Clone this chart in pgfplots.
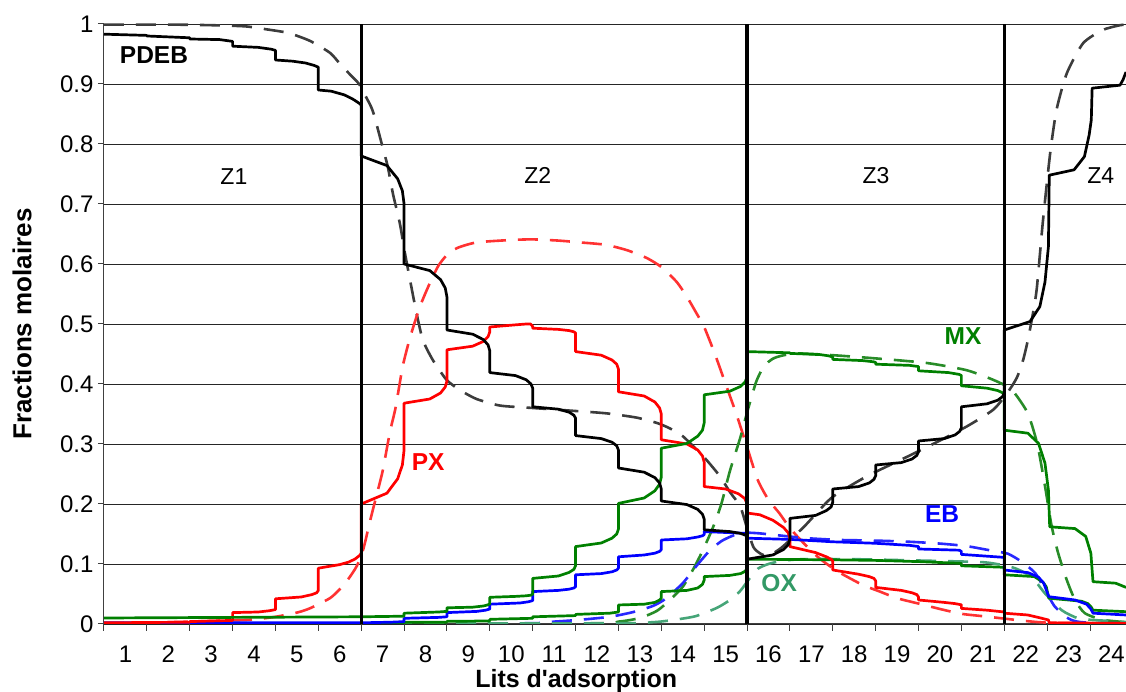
\documentclass[border=0pt]{standalone}
\usepackage{fontspec}
\setmainfont{Liberation Sans}
\usepackage{pgfplots}
\pgfplotsset{compat=1.18}
\definecolor{mxg}{RGB}{0,128,0}
\definecolor{oxg}{RGB}{51,153,102}
\definecolor{dgray}{RGB}{60,60,60}
\definecolor{dred}{RGB}{255,50,50}
\definecolor{dgreen}{RGB}{40,140,40}
\definecolor{dblue}{RGB}{40,40,255}
\definecolor{doxg}{RGB}{70,165,120}
\begin{document}
\begin{tikzpicture}
\begin{axis}[
  scale only axis, width=1022pt, height=600pt,
  xmin=0.5, xmax=24.34, ymin=0, ymax=1,
  axis x line*=bottom, axis y line*=left,
  axis line style={black!75, line width=1pt},
  tick align=outside,
  xtick={1,...,24},
  major x tick style={draw=none},
  minor xtick={0.5,1.5,...,23.5},
  minor x tick style={black!75, line width=1pt},
  ytick={0,0.1,0.2,0.3,0.4,0.5,0.6,0.7,0.8,0.9,1},
  y tick style={black!75, line width=1pt},
  major tick length=6pt, minor tick length=7pt,
  ymajorgrids, major grid style={black!85, line width=0.9pt},
  /pgf/number format/assume math mode=true,
  ticklabel style={font=\fontsize{24}{24}\selectfont},
  xticklabel style={yshift=-12pt},
  yticklabel style={xshift=-1pt},
  xlabel={Lits d\textquotesingle adsorption},
  ylabel={Fractions molaires},
  xlabel style={at={(axis description cs:0.462,0)}, anchor=center, yshift=-57pt, font=\bfseries\fontsize{25}{25}\selectfont},
  ylabel style={at={(axis description cs:-0.0802,0.5)}, anchor=center, font=\bfseries\fontsize{26}{26}\selectfont},
  no marks,
  every axis plot/.append style={line join=round},
]
\coordinate (BL) at (rel axis cs:0,0);
\coordinate (TR) at (rel axis cs:1,1);

% ---------- dashed (model) curves ----------
\addplot[dgray, line width=2.6pt, dash pattern=on 20pt off 12pt, smooth, tension=0.4] coordinates {
(0.5,0.999) (2.0,0.999) (3.0,0.998) (3.8,0.996) (4.3,0.991) (4.8,0.985) (5.3,0.972) (5.77,0.952) (6.0,0.934) (6.25,0.915) (6.45,0.9) (6.6,0.88) (6.77,0.855) (6.98,0.80) (7.12,0.762) (7.24,0.717) (7.4,0.668) (7.52,0.618) (7.64,0.573) (7.79,0.518) (7.94,0.473) (8.17,0.44) (8.49,0.407) (8.8,0.39) (9.19,0.375) (9.74,0.364) (10.5,0.36) (11.5,0.355) (12.23,0.351) (12.92,0.344) (13.4,0.335) (13.7,0.326) (14.0,0.313) (14.33,0.29) (14.56,0.273) (14.87,0.246) (15.1,0.22) (15.34,0.196) (15.5,0.16) (15.65,0.128) (15.82,0.117) (16.0,0.114) (16.3,0.127) (16.8,0.16) (17.05,0.179) (17.5,0.212) (18.29,0.246) (19.07,0.273) (19.84,0.30) (20.62,0.329) (21.24,0.357) (21.56,0.384) (21.79,0.41) (21.94,0.44) (22.05,0.473) (22.17,0.518) (22.26,0.56) (22.4,0.67) (22.57,0.784) (22.72,0.857) (22.96,0.918) (23.34,0.968) (23.8,0.99) (24.2,0.998) (24.34,0.999)
};
\addplot[dred, line width=2.6pt, dash pattern=on 20pt off 12pt, smooth, tension=0.4] coordinates {
(0.5,0.001) (2.0,0.003) (3.0,0.005) (3.9,0.007) (4.5,0.012) (5.0,0.019) (5.3,0.026) (5.77,0.043) (6.0,0.058) (6.2,0.075) (6.4,0.097) (6.55,0.125) (6.7,0.17) (6.86,0.215) (7.0,0.255) (7.17,0.32) (7.3,0.36) (7.47,0.43) (7.65,0.48) (7.87,0.529) (8.1,0.568) (8.3,0.597) (8.5,0.615) (8.75,0.627) (9.2,0.636) (10.0,0.64) (10.5,0.641) (11.1,0.639) (11.6,0.636) (12.2,0.632) (12.7,0.623) (13.16,0.61) (13.5,0.595) (13.86,0.57) (14.1,0.545) (14.32,0.518) (14.5,0.495) (14.75,0.45) (15.0,0.40) (15.25,0.35) (15.5,0.295) (15.75,0.24) (16.0,0.207) (16.25,0.185) (16.5,0.16) (16.75,0.14) (17.13,0.113) (17.44,0.096) (17.7,0.084) (18.2,0.065) (18.6,0.054) (19.0,0.043) (19.5,0.034) (20.0,0.025) (20.5,0.017) (21.0,0.013) (21.5,0.009) (22.0,0.005) (22.6,0.002) (24.34,0.001)
};
\addplot[dgreen, line width=2.6pt, dash pattern=on 20pt off 12pt, smooth, tension=0.4] coordinates {
(0.5,0.0005) (11.5,0.001) (12.5,0.004) (13.0,0.01) (13.4,0.022) (13.7,0.04) (14.0,0.062) (14.25,0.092) (14.45,0.12) (14.7,0.16) (14.9,0.2) (15.1,0.255) (15.34,0.31) (15.53,0.36) (15.72,0.405) (15.9,0.43) (16.1,0.442) (16.3,0.447) (16.66,0.451) (17.5,0.448) (18.44,0.443) (19.69,0.435) (20.62,0.423) (21.24,0.407) (21.56,0.396) (21.75,0.384) (22.05,0.351) (22.27,0.30) (22.45,0.23) (22.6,0.165) (22.75,0.12) (22.95,0.075) (23.15,0.04) (23.38,0.018) (23.8,0.007) (24.34,0.003)
};
\addplot[dblue, line width=2.6pt, dash pattern=on 20pt off 12pt, smooth, tension=0.4] coordinates {
(0.5,0.001) (10.0,0.001) (11.0,0.004) (11.6,0.007) (12.3,0.012) (12.85,0.02) (13.3,0.03) (13.6,0.042) (14.0,0.068) (14.3,0.095) (14.6,0.12) (14.9,0.138) (15.2,0.148) (15.5,0.152) (15.8,0.151) (16.2,0.148) (16.9,0.143) (17.7,0.14) (18.5,0.139) (19.3,0.137) (20.0,0.134) (20.6,0.13) (21.0,0.125) (21.3,0.121) (21.59,0.117) (21.9,0.104) (22.22,0.085) (22.45,0.057) (22.68,0.029) (22.99,0.0095) (23.3,0.003) (24.34,0.001)
};
\addplot[doxg, line width=2.6pt, dash pattern=on 20pt off 12pt, smooth, tension=0.4] coordinates {
(0.5,0.0005) (12.0,0.001) (13.3,0.003) (13.8,0.007) (14.3,0.013) (14.8,0.027) (15.1,0.04) (15.34,0.055) (15.55,0.075) (15.75,0.092) (16.0,0.1) (16.3,0.105) (16.8,0.108) (18.0,0.108) (20.0,0.105) (21.0,0.103) (21.4,0.099) (21.75,0.093) (22.13,0.079) (22.45,0.051) (22.84,0.023) (23.22,0.0095) (23.6,0.0065) (24.0,0.005) (24.34,0.003)
};

% ---------- solid (bed) curves ----------
% OX
\addplot[mxg, line width=2.7pt] coordinates {
(0.5,0.001) (6.5,0.001) (7.5,0.001) (7.5,0.003) (8.5,0.003) (8.5,0.0045) (9.5,0.005) (9.5,0.0078) (10.5,0.0095) (10.5,0.012) (11.5,0.014) (11.5,0.016) (12.3,0.018) (12.5,0.02) (12.5,0.0317) (13.1,0.033) (13.35,0.036) (13.46,0.04) (13.5,0.043) (13.5,0.054) (14.1,0.056) (14.35,0.06) (14.46,0.066) (14.5,0.073) (14.5,0.079) (15.1,0.081) (15.35,0.084) (15.46,0.088) (15.5,0.093) (15.5,0.108) (16.5,0.1075) (17.5,0.107) (18.5,0.106) (19.5,0.104) (20.5,0.101) (20.5,0.097) (21.5,0.0945) (21.5,0.082) (22.2,0.079) (22.4,0.07) (22.48,0.062) (22.54,0.043) (23.3,0.038) (23.45,0.034) (23.53,0.028) (23.57,0.023) (24.34,0.0205)
};
% EB
\addplot[blue, line width=2.7pt] coordinates {
(0.5,0.002) (6.5,0.002) (7.2,0.003) (7.5,0.004) (7.5,0.0095) (8.3,0.011) (8.5,0.012) (8.5,0.019) (9.2,0.021) (9.4,0.023) (9.5,0.025) (9.5,0.033) (10.2,0.035) (10.4,0.037) (10.5,0.039) (10.5,0.054) (11.1,0.056) (11.35,0.058) (11.46,0.06) (11.5,0.062) (11.5,0.082) (12.1,0.084) (12.35,0.087) (12.46,0.09) (12.5,0.093) (12.5,0.112) (13.1,0.115) (13.35,0.118) (13.46,0.121) (13.5,0.124) (13.5,0.14) (14.1,0.142) (14.35,0.145) (14.46,0.147) (14.5,0.149) (14.5,0.154) (15.5,0.151) (15.5,0.143) (16.5,0.141) (17.5,0.137) (18.5,0.1345) (19.3,0.131) (19.5,0.129) (19.5,0.125) (20.45,0.123) (20.5,0.121) (20.5,0.116) (21.5,0.111) (21.5,0.09) (22.06,0.0855) (22.3,0.078) (22.42,0.068) (22.54,0.0455) (23.15,0.04) (23.42,0.033) (23.52,0.025) (23.57,0.018) (24.34,0.015)
};
% PX
\addplot[red, line width=2.7pt] coordinates {
(0.5,0.002) (2.5,0.003) (2.5,0.004) (3.5,0.006) (3.5,0.019) (4.1,0.020) (4.35,0.022) (4.5,0.024) (4.5,0.042) (5.1,0.045) (5.35,0.049) (5.46,0.052) (5.5,0.056) (5.5,0.093) (6.0,0.099) (6.2,0.103) (6.35,0.108) (6.46,0.114) (6.5,0.118) (6.5,0.20) (7.1,0.218) (7.35,0.242) (7.46,0.265) (7.5,0.29) (7.5,0.368) (8.1,0.375) (8.35,0.385) (8.46,0.395) (8.5,0.405) (8.5,0.457) (9.1,0.463) (9.35,0.471) (9.46,0.479) (9.5,0.487) (9.5,0.495) (10.0,0.498) (10.35,0.50) (10.45,0.50) (10.5,0.496) (10.5,0.493) (11.1,0.491) (11.35,0.489) (11.46,0.487) (11.5,0.485) (11.5,0.454) (12.1,0.448) (12.35,0.44) (12.46,0.433) (12.5,0.425) (12.5,0.387) (13.1,0.38) (13.35,0.37) (13.46,0.36) (13.5,0.35) (13.5,0.307) (14.1,0.30) (14.35,0.29) (14.46,0.28) (14.5,0.27) (14.5,0.229) (15.0,0.225) (15.3,0.217) (15.45,0.209) (15.5,0.20) (15.5,0.185) (15.8,0.182) (16.1,0.173) (16.35,0.161) (16.46,0.152) (16.5,0.143) (16.5,0.129) (17.1,0.119) (17.35,0.112) (17.46,0.108) (17.5,0.105) (17.5,0.09) (18.1,0.083) (18.35,0.079) (18.46,0.076) (18.5,0.072) (18.5,0.061) (19.1,0.056) (19.35,0.052) (19.46,0.049) (19.5,0.045) (19.5,0.04) (20.1,0.036) (20.35,0.034) (20.5,0.032) (20.5,0.026) (21.1,0.023) (21.5,0.02) (21.5,0.018) (22.05,0.015) (22.35,0.01) (22.53,0.0067) (22.55,0.002) (24.34,0.001)
};
% MX
\addplot[mxg, line width=2.7pt] coordinates {
(0.5,0.010) (6.5,0.012) (7.5,0.013) (7.5,0.018) (8.3,0.020) (8.5,0.021) (8.5,0.027) (9.1,0.028) (9.35,0.030) (9.46,0.032) (9.5,0.034) (9.5,0.0445) (10.1,0.046) (10.35,0.047) (10.46,0.048) (10.5,0.05) (10.5,0.076) (11.1,0.08) (11.35,0.086) (11.46,0.091) (11.5,0.097) (11.5,0.129) (12.1,0.135) (12.35,0.143) (12.46,0.15) (12.5,0.158) (12.5,0.201) (13.1,0.21) (13.35,0.222) (13.46,0.233) (13.5,0.245) (13.5,0.293) (14.1,0.301) (14.35,0.313) (14.46,0.323) (14.5,0.335) (14.5,0.382) (15.1,0.388) (15.35,0.396) (15.46,0.404) (15.5,0.412) (15.5,0.454) (16.5,0.452) (16.5,0.451) (17.2,0.449) (17.4,0.447) (17.5,0.445) (17.5,0.441) (18.2,0.439) (18.45,0.437) (18.5,0.436) (18.5,0.433) (19.3,0.431) (19.5,0.429) (19.5,0.422) (20.2,0.419) (20.45,0.416) (20.5,0.414) (20.5,0.397) (21.1,0.393) (21.35,0.389) (21.5,0.384) (21.5,0.323) (22.05,0.318) (22.3,0.301) (22.45,0.268) (22.53,0.223) (22.56,0.162) (23.15,0.159) (23.4,0.146) (23.52,0.118) (23.57,0.0705) (24.1,0.068) (24.34,0.061)
};
% PDEB
\addplot[black, line width=2.7pt] coordinates {
(0.5,0.983) (1.5,0.981) (1.5,0.980) (2.5,0.977) (2.5,0.975) (3.2,0.974) (3.5,0.971) (3.5,0.963) (4.1,0.961) (4.4,0.958) (4.5,0.956) (4.5,0.940) (4.9,0.938) (5.2,0.935) (5.4,0.931) (5.5,0.928) (5.5,0.890) (5.8,0.888) (6.1,0.882) (6.3,0.875) (6.45,0.868) (6.5,0.865) (6.5,0.78) (7.1,0.764) (7.35,0.742) (7.46,0.722) (7.5,0.70) (7.5,0.60) (8.1,0.589) (8.35,0.574) (8.46,0.56) (8.5,0.545) (8.5,0.49) (9.1,0.483) (9.35,0.474) (9.46,0.465) (9.5,0.455) (9.5,0.419) (10.1,0.414) (10.35,0.407) (10.46,0.40) (10.5,0.393) (10.5,0.362) (11.1,0.358) (11.35,0.353) (11.46,0.348) (11.5,0.343) (11.5,0.314) (12.1,0.309) (12.35,0.303) (12.46,0.297) (12.5,0.29) (12.5,0.26) (13.1,0.253) (13.35,0.244) (13.46,0.235) (13.5,0.225) (13.5,0.205) (14.1,0.199) (14.35,0.191) (14.46,0.183) (14.5,0.175) (14.5,0.157) (15.1,0.154) (15.35,0.151) (15.46,0.148) (15.5,0.146) (15.5,0.108) (16.1,0.115) (16.35,0.124) (16.46,0.132) (16.5,0.142) (16.5,0.176) (17.1,0.181) (17.35,0.189) (17.46,0.195) (17.5,0.203) (17.5,0.225) (18.1,0.229) (18.35,0.235) (18.46,0.241) (18.5,0.247) (18.5,0.265) (19.1,0.269) (19.35,0.275) (19.46,0.281) (19.5,0.287) (19.5,0.305) (20.1,0.309) (20.35,0.315) (20.46,0.321) (20.5,0.327) (20.5,0.362) (21.1,0.367) (21.35,0.373) (21.46,0.379) (21.5,0.385) (21.5,0.49) (22.1,0.504) (22.33,0.529) (22.45,0.57) (22.53,0.629) (22.55,0.748) (23.13,0.757) (23.37,0.779) (23.48,0.815) (23.53,0.84) (23.55,0.893) (24.2,0.898) (24.27,0.907) (24.34,0.92)
};

% ---------- zone separators ----------
\addplot[black, line width=3.3pt] coordinates {(6.5,0) (6.5,1)};
\addplot[black, line width=3.3pt] coordinates {(15.5,0) (15.5,1)};
\addplot[black, line width=3.3pt] coordinates {(21.5,0) (21.5,1)};

% ---------- labels ----------
\node[font=\fontsize{23}{23}\selectfont] at (axis cs:3.53,0.745) {Z1};
\node[font=\fontsize{23}{23}\selectfont] at (axis cs:10.62,0.747) {Z2};
\node[font=\fontsize{23}{23}\selectfont] at (axis cs:18.51,0.747) {Z3};
\node[font=\fontsize{23}{23}\selectfont] at (axis cs:23.75,0.747) {Z4};
\node[font=\bfseries\fontsize{24.5}{24.5}\selectfont, text=black] at (axis cs:1.666,0.949) {PDEB};
\node[font=\bfseries\fontsize{24.5}{24.5}\selectfont, text=red] at (axis cs:8.06,0.2705) {PX};
\node[font=\bfseries\fontsize{24.5}{24.5}\selectfont, text=mxg] at (axis cs:20.54,0.48) {MX};
\node[font=\bfseries\fontsize{24.5}{24.5}\selectfont, text=blue] at (axis cs:20.05,0.1837) {EB};
\node[font=\bfseries\fontsize{24.5}{24.5}\selectfont, text=oxg] at (axis cs:16.25,0.069) {OX};
\end{axis}
\pgfresetboundingbox
\useasboundingbox ([xshift=-104pt,yshift=-68pt]BL) rectangle ([yshift=24pt]TR);
\end{tikzpicture}
\end{document}
